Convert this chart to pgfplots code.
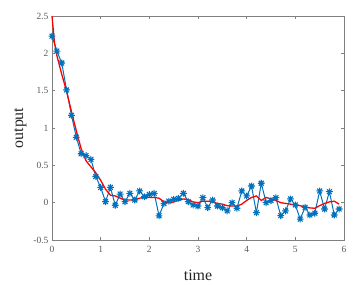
\documentclass[border=0pt]{standalone}
\usepackage{pgfplots}
\pgfplotsset{compat=1.18}
\usepackage{fontspec}
\setmainfont{Liberation Serif}
\definecolor{mblue}{rgb}{0,0.447,0.741}
\definecolor{axgray}{gray}{0.5}
\pgfdeclareplotmark{mstar}{%
  \pgfpathmoveto{\pgfqpoint{-\pgfplotmarksize}{0pt}}\pgfpathlineto{\pgfqpoint{\pgfplotmarksize}{0pt}}%
  \pgfpathmoveto{\pgfqpoint{0pt}{-\pgfplotmarksize}}\pgfpathlineto{\pgfqpoint{0pt}{\pgfplotmarksize}}%
  \pgfpathmoveto{\pgfqpoint{-0.707\pgfplotmarksize}{-0.707\pgfplotmarksize}}\pgfpathlineto{\pgfqpoint{0.707\pgfplotmarksize}{0.707\pgfplotmarksize}}%
  \pgfpathmoveto{\pgfqpoint{-0.707\pgfplotmarksize}{0.707\pgfplotmarksize}}\pgfpathlineto{\pgfqpoint{0.707\pgfplotmarksize}{-0.707\pgfplotmarksize}}%
  \pgfusepathqstroke}
\begin{document}
\begin{tikzpicture}
\path[use as bounding box] (-52bp,-45bp) rectangle (306bp,240bp);
\begin{axis}[
  at={(0,0)}, anchor=south west,
  scale only axis, width=292bp, height=224bp,
  xmin=0, xmax=6, ymin=-0.5, ymax=2.5,
  xtick={0,1,2,3,4,5,6},
  ytick={-0.5,0,0.5,1,1.5,2,2.5},
  yticklabels={-0.5,0,0.5,1,1.5,2,2.5},
  xticklabels={0,1,2,3,4,5,6},
  tick align=inside,
  major tick length=3bp,
  axis line style={axgray, line width=0.7pt},
  every tick/.style={axgray, line width=0.7pt},
  tick label style={font=\fontsize{9.5}{10}\selectfont, text=black!65},
  xticklabel style={yshift=-3bp},
  xlabel={time}, ylabel={output},
  label style={font=\fontsize{16}{17}\selectfont, text=black!85},
  xlabel style={at={(axis description cs:0.5,0)}, anchor=north, yshift=-26bp},
  ylabel style={at={(axis description cs:0,0.5)}, anchor=south, yshift=22bp},
  clip=false,
]
\addplot[mblue, line width=1pt, mark=mstar, mark size=3.4bp, mark options={line width=1.1pt}] coordinates {
(0.0,2.23) (0.1,2.03) (0.2,1.87) (0.3,1.51) (0.4,1.17) (0.5,0.875)
(0.6,0.655) (0.7,0.63) (0.8,0.58) (0.9,0.35) (1.0,0.205) (1.1,0.013)
(1.2,0.205) (1.3,-0.035) (1.4,0.115) (1.5,0.013) (1.6,0.125) (1.7,0.036)
(1.8,0.157) (1.9,0.08) (2.0,0.11) (2.1,0.125) (2.2,-0.176) (2.3,-0.012)
(2.4,0.02) (2.5,0.045) (2.6,0.058) (2.7,0.125) (2.8,0.013) (2.9,-0.03)
(3.0,-0.045) (3.1,0.067) (3.2,-0.067) (3.3,0.036) (3.4,-0.045) (3.5,-0.067)
(3.6,-0.11) (3.7,0.0) (3.8,-0.075) (3.9,0.157) (4.0,0.09) (4.1,0.223)
(4.2,-0.134) (4.3,0.26) (4.4,0.0) (4.5,0.027) (4.6,0.067) (4.7,-0.174)
(4.8,-0.11) (4.9,0.05) (5.0,-0.03) (5.1,-0.22) (5.2,-0.062) (5.3,-0.165)
(5.4,-0.142) (5.5,0.157) (5.6,-0.085) (5.7,0.147) (5.8,-0.165) (5.9,-0.085)
};
\addplot[red, line width=1.3pt, no marks] coordinates {
(0.0,2.5) (0.05,2.15) (0.1,1.97) (0.2,1.72) (0.3,1.49) (0.4,1.22) (0.5,0.96)
(0.6,0.72) (0.7,0.56) (0.8,0.48) (0.9,0.40) (1.0,0.30) (1.1,0.18)
(1.2,0.10) (1.3,0.09) (1.4,0.06) (1.5,0.035) (1.6,0.035) (1.7,0.04)
(1.8,0.06) (1.9,0.07) (2.0,0.07) (2.1,0.07) (2.2,0.06) (2.3,0.01)
(2.4,0.0) (2.5,0.01) (2.6,0.03) (2.7,0.05) (2.8,0.04) (2.9,0.01)
(3.0,0.0) (3.1,0.02) (3.2,0.02) (3.3,0.01) (3.4,-0.01) (3.5,-0.02)
(3.6,-0.04) (3.7,-0.045) (3.8,-0.045) (3.9,-0.02) (4.0,0.03) (4.1,0.07)
(4.2,0.09) (4.3,0.03) (4.4,0.07) (4.5,0.05) (4.6,0.03) (4.7,0.0)
(4.8,-0.01) (4.9,-0.02) (5.0,-0.03) (5.1,-0.04) (5.2,-0.06) (5.3,-0.07)
(5.4,-0.075) (5.5,-0.04) (5.6,-0.01) (5.7,0.01) (5.8,0.02) (5.9,-0.02)
};
\end{axis}
\end{tikzpicture}
\end{document}
